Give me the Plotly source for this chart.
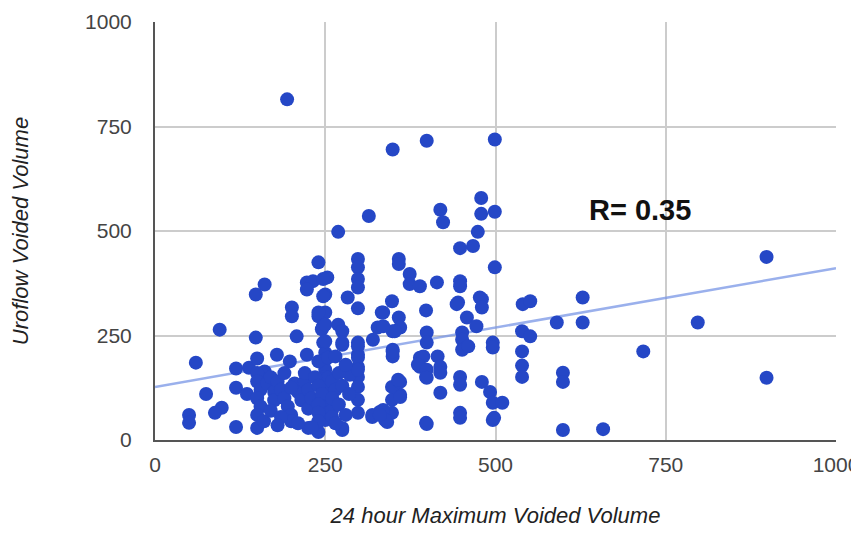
import plotly.graph_objects as go

# 24 hour maximum voided volume (x) vs uroflow voided volume (y)
max_voided = [
    194, 349, 399, 499, 479, 479, 499, 419, 423, 314, 269, 474, 467, 448, 499,
    298, 298, 298, 298, 358, 358, 374, 374, 389, 414, 448, 448, 253, 283, 348,
    445, 477, 250, 240, 223, 232, 247, 223, 247, 161, 148, 201, 201, 240, 247,
    95, 148, 208, 247,
    298, 333, 358, 360, 327, 320, 349, 398, 443, 480, 480, 458, 472, 496, 496,
    451, 451, 451, 460, 275, 298, 298, 298, 298, 298, 298, 286, 298, 319, 330,
    341, 348, 348, 360, 348, 360, 349, 349, 398, 389, 389, 398, 415, 419, 419,
    419, 448, 448, 448, 448, 480, 492, 496, 496, 275,
    245, 250, 250, 250, 250, 250, 250, 250, 255, 250, 250,
    540, 551, 590, 628, 628, 539, 551, 539, 539, 539, 599, 599, 717, 510, 599,
    658, 898, 797, 898,
    335, 352, 335, 399, 399, 349, 394, 386, 399, 399, 357, 360, 335, 338, 399, 498,
    240, 250, 269, 275, 250, 275, 179, 198, 223, 240, 254, 298, 298, 298, 254,
    319, 330, 275, 225, 240, 260,
    60, 119, 138, 161, 150, 75, 119, 135, 98, 88, 50, 50, 119, 150,
    150, 150, 155, 150, 155, 150, 160, 165, 170, 175, 175, 170, 180, 185, 190,
    195, 200, 205, 210, 215, 220, 220, 225, 225, 230, 200, 210, 185, 190, 235,
    240, 245, 240, 240, 260, 260, 265, 270, 240, 260, 270, 280, 265, 275, 285,
    280, 230, 265, 180, 200,
]
uroflow_voided = [
    815, 695, 716, 719, 579, 541, 546, 551, 521, 536, 498, 498, 464, 459, 413,
    433, 413, 385, 365, 433, 421, 397, 373, 368, 377, 380, 368, 389, 341, 332,
    329, 341, 348, 425, 377, 380, 385, 360, 344, 372, 348, 317, 296, 296, 272,
    264, 245, 248, 233,
    315, 305, 293, 269, 269, 240, 260, 310, 325, 337, 317, 293, 272, 233, 221,
    257, 240, 216, 224, 228, 233, 204, 175, 151, 127, 96, 156, 65, 55, 67,
    43, 65, 96, 108, 127, 139, 216, 200, 41, 197, 175, 151, 200, 175, 161,
    113, 151, 132, 65, 53, 139, 115, 89, 48, 24,
    265, 305, 209, 192, 168, 151, 127, 103, 89, 72, 48,
    325, 332, 281, 341, 281, 260, 248, 212, 178, 151, 161, 139, 212, 89, 24,
    26, 438, 281, 149,
    305, 260, 272, 257, 233, 212, 200, 180, 168, 149, 144, 103, 72, 48, 38, 53,
    305, 276, 276, 260, 236, 233, 204, 188, 204, 188, 197, 224, 197, 168, 149,
    60, 60, 29, 29, 19, 72,
    185, 171, 173, 164, 195, 110, 125, 110, 77, 65, 60, 41, 31, 29,
    160, 140, 120, 100, 80, 60, 45, 135, 150, 115, 95, 70, 140, 120, 100,
    80, 60, 135, 115, 95, 140, 160, 120, 75, 100, 45, 40, 55, 160, 150,
    130, 110, 85, 65, 55, 140, 120, 160, 45, 100, 85, 180, 200, 130, 110,
    60, 30, 40, 35, 125,
]

# Linear trendline
trend_x = [0, 1000]
trend_y = [127, 411]

r_label = "R= 0.35"
x_ticks = [0, 250, 500, 750, 1000]
y_ticks = [0, 250, 500, 750, 1000]

FONT = "Liberation Sans, Arial, sans-serif"

fig = go.Figure()
fig.add_trace(go.Scatter(
    x=trend_x, y=trend_y, mode="lines",
    line=dict(color="rgba(120,150,230,0.75)", width=2.5),
    hoverinfo="skip", showlegend=False,
))
fig.add_trace(go.Scatter(
    x=max_voided, y=uroflow_voided, mode="markers",
    marker=dict(size=14, color="#2547c6", line=dict(width=0)),
    showlegend=False,
))

fig.add_annotation(
    x=712, y=550, text="<b>" + r_label + "</b>", showarrow=False,
    font=dict(family=FONT, size=29, color="#111111"),
    xanchor="center", yanchor="middle",
)

fig.update_layout(
    width=843, height=520,
    margin=dict(l=147, r=15, t=14, b=88, autoexpand=False),
    paper_bgcolor="white", plot_bgcolor="white",
    font=dict(family=FONT, color="#444444", size=21),
)
fig.update_xaxes(
    range=[0, 1000], tickvals=x_ticks, ticktext=[str(v) for v in x_ticks],
    showgrid=True, gridcolor="#cccccc", gridwidth=1.5,
    showline=True, linecolor="#555555", linewidth=2,
    zeroline=False, ticks="", ticklabelstandoff=5, automargin=False,
    ticklabeloverflow="allow",
    tickfont=dict(size=21, color="#444444"),
    title=dict(text="<i>24 hour Maximum Voided Volume</i>",
               font=dict(size=22, color="#222222"), standoff=33),
)
fig.update_yaxes(
    range=[0, 1000], tickvals=y_ticks, ticktext=[str(v) for v in y_ticks],
    showgrid=True, gridcolor="#cccccc", gridwidth=1.5,
    showline=True, linecolor="#555555", linewidth=2,
    zeroline=False, ticks="", ticklabelstandoff=17, automargin=False,
    ticklabeloverflow="allow",
    tickfont=dict(size=21, color="#444444"),
    title=dict(text="<i>Uroflow Voided Volume</i>",
               font=dict(size=22, color="#222222"), standoff=69),
)

fig.write_html("out.html")
